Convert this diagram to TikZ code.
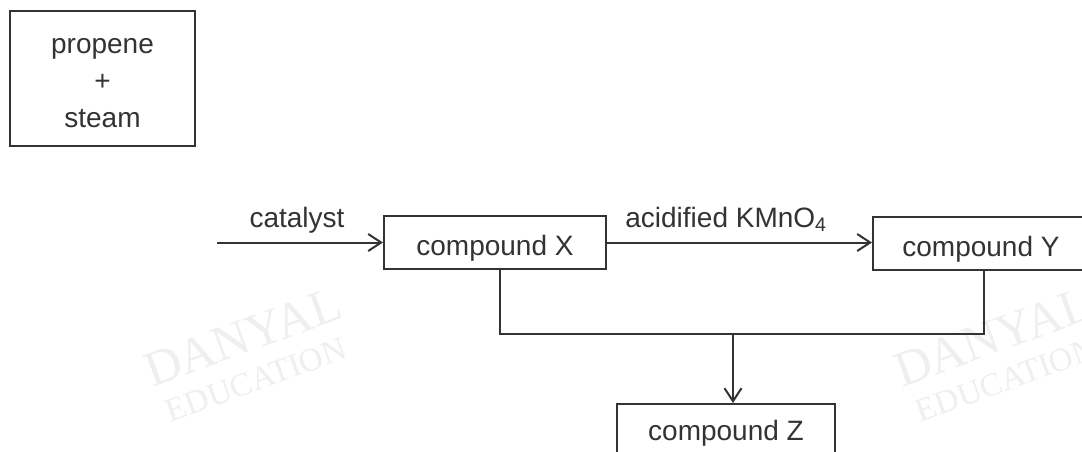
\documentclass[tikz,border=0pt]{standalone}
\usepackage{fontspec}
\setmainfont{Liberation Sans}
\newfontfamily\wmfont{Liberation Serif}
\usetikzlibrary{arrows.meta}
\definecolor{ink}{HTML}{333333}
\definecolor{wm}{HTML}{EFEFEF}
\begin{document}
\begin{tikzpicture}[x=1pt,y=-1pt,
  box/.style={draw=ink, line width=2pt, inner sep=0pt, text=ink, align=center,
    font=\fontsize{28}{37}\selectfont, text height=26pt, text depth=0pt},
  frame/.style={draw=ink, line width=2pt, inner sep=0pt},
  lbl/.style={text=ink, inner sep=0pt, anchor=base, font=\fontsize{28}{37}\selectfont},
  mlbl/.style={text=ink, inner sep=0pt, align=center, font=\fontsize{28}{37}\selectfont},
  conn/.style={draw=ink, line width=2pt},
  arr/.style={conn, -{Straight Barb[length=13pt,width=17pt,line width=2pt]}},
  wmbig/.style={text=wm, inner sep=0pt, rotate=20, font=\wmfont\fontsize{50}{50}\selectfont},
  wmsmall/.style={text=wm, inner sep=0pt, rotate=20, font=\wmfont\fontsize{33}{33}\selectfont}]
\useasboundingbox (0,0) rectangle (1082,451);
\clip (0,0) rectangle (1082,451);
\fill[white] (0,0) rectangle (1082,451);
% watermarks
\node[wmbig] (wm1a) at (243,337) {DANYAL};
\node[wmsmall] (wm1b) at (256,380) {EDUCATION};
\node[wmbig] (wm2a) at (993,337) {DANYAL};
\node[wmsmall] (wm2b) at (1006,380) {EDUCATION};
% boxes
\node[frame, minimum width=185pt, minimum height=135pt] (P) at (102.5,78.5) {};
\node[mlbl] (Pt) at (102.5,83) {propene\\+\\steam};
\node[box, minimum width=222pt, minimum height=53pt] (X) at (495,242.5) {compound X};
\node[box, minimum width=216pt, minimum height=53pt] (Y) at (981,243.5) {compound Y};
\node[box, minimum width=218pt, minimum height=53pt, text height=20pt] (Z) at (726,430.5) {compound Z};
% connectors
\coordinate (S) at (217,242.5);
\draw[arr] (S) -- (S -| X.west);
\node[lbl] (cat) at (297,227) {catalyst};
\draw[arr] (X.east) -- (X.east -| Y.west);
\node[lbl] (kmn) at (726,227) {acidified KMnO\textsubscript{4}};
\coordinate (J) at (733,334);
\draw[conn] ([xshift=5pt]X.south) |- (J) -| ([xshift=3pt]Y.south);
\draw[arr] (J) -- (J |- Z.north);
\end{tikzpicture}
\end{document}
